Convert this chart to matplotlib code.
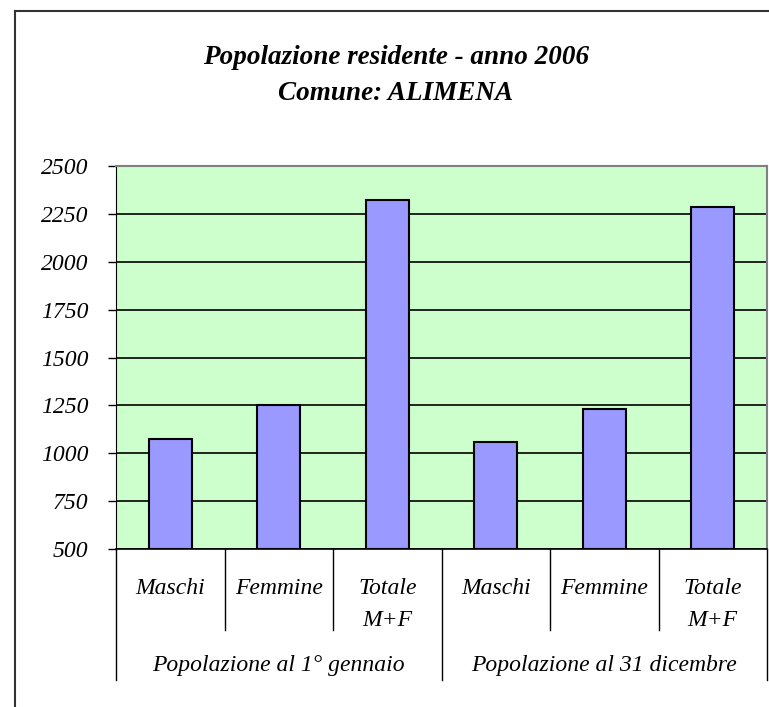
import matplotlib
matplotlib.use("Agg")
import matplotlib.pyplot as plt
from matplotlib.lines import Line2D
import numpy as np

# Data
categories = ["Maschi", "Femmine", "Totale\nM+F", "Maschi", "Femmine", "Totale\nM+F"]
groups = ["Popolazione al 1° gennaio", "Popolazione al 31 dicembre"]
values = [1074, 1250, 2324, 1058, 1230, 2288]
yticks = [500, 750, 1000, 1250, 1500, 1750, 2000, 2250, 2500]

plt.rcParams['font.family'] = ['Liberation Serif', 'DejaVu Serif']

W, H = 769, 707
fig = plt.figure(figsize=(W/100, H/100), dpi=100)
fig.patch.set_facecolor("white")

# Plot area
ax = fig.add_axes([116/W, 1-549/H, 651/W, 383/H])
ax.set_facecolor("#CCFFCC")
x = np.arange(len(values)) + 0.5
ax.bar(x, [v - 500 for v in values], bottom=500, width=0.4,
       color="#9999FF", edgecolor="black", linewidth=1.5, zorder=3)

ax.set_xlim(0, len(values))
ax.set_ylim(500, 2500)
ax.set_yticks(yticks)
ax.set_yticklabels([str(t) for t in yticks], fontsize=17, style="italic")
ax.yaxis.grid(True, color="black", linewidth=1.2, zorder=1)
ax.set_axisbelow(True)
ax.tick_params(axis="y", length=6, width=1, color="black", pad=14)
ax.set_xticks([])

for side in ["top", "right"]:
    ax.spines[side].set_color("#808080")
    ax.spines[side].set_linewidth(1.5)
ax.spines["left"].set_color("black")
ax.spines["bottom"].set_color("black")
ax.spines["bottom"].set_linewidth(1.2)

# Category separators and labels
trans = ax.get_xaxis_transform()
for b in [1, 2, 4, 5]:
    ax.plot([b, b], [0, -81/383], color="black", lw=1, transform=trans, clip_on=False)
for b in [0, 3, 6]:
    ax.plot([b, b], [0, -131/383], color="black", lw=1, transform=trans, clip_on=False)

for xi, lab in zip(x, categories):
    for li, line in enumerate(lab.split("\n")):
        ax.text(xi, -(39 + 32*li)/383, line, transform=trans, ha="center", va="center",
                fontsize=17, style="italic")
for gi, g in enumerate(groups):
    ax.text(gi*3 + 1.5, -117/383, g, transform=trans, ha="center", va="center",
            fontsize=17, style="italic")

# Title
fig.text(396/W, 1-58/H, "Popolazione residente - anno 2006", ha="center", va="center",
         fontsize=19.5, style="italic", weight="bold")
fig.text(396/W, 1-94/H, "Comune: ALIMENA", ha="center", va="center",
         fontsize=19.5, style="italic", weight="bold")

# Chart border
fig.add_artist(Line2D([15/W, 15/W], [0, 1-11/H], color="#333333", lw=1.5))
fig.add_artist(Line2D([15/W, 1], [1-11/H, 1-11/H], color="#333333", lw=1.5))

fig.savefig("out.png", dpi=100)
